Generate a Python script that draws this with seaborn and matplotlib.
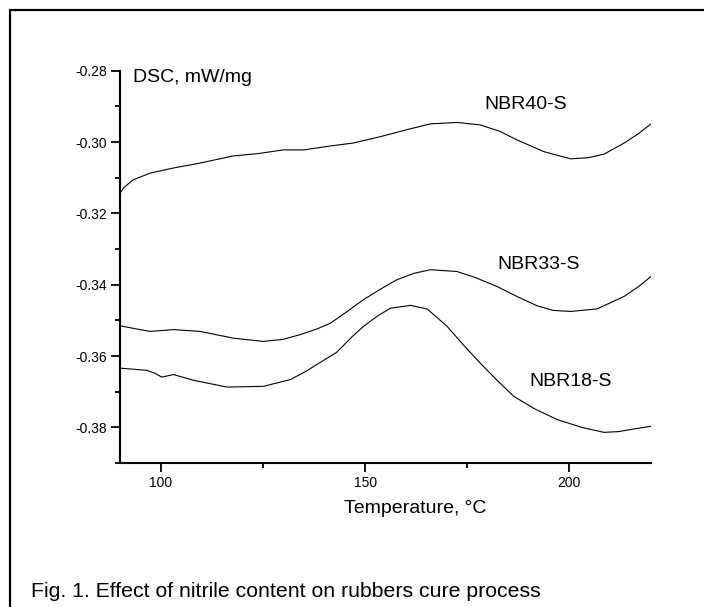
import matplotlib
matplotlib.use("Agg")
import matplotlib.pyplot as plt
from matplotlib.ticker import MultipleLocator, FormatStrFormatter
import pandas as pd
import seaborn as sns

# ---- data ----
t_40 = [90, 91, 93.2, 97.4, 103, 109.6, 117.7, 124, 130, 135, 141.5, 147, 153.7, 160,
        166, 172.5, 178.2, 183, 187.2, 193.8, 200.3, 204.5, 208.5, 213.4, 217, 220]
dsc_40 = [-0.3143, -0.3127, -0.3106, -0.3087, -0.3073, -0.3059, -0.3039, -0.3032,
          -0.3022, -0.3022, -0.3011, -0.3003, -0.2985, -0.2966, -0.2949, -0.2945,
          -0.2952, -0.2970, -0.2994, -0.3027, -0.3047, -0.3044, -0.3034, -0.3003,
          -0.2976, -0.2949]

t_33 = [90, 93.5, 97.4, 103.1, 109.6, 117.8, 125.1, 130, 134.1, 138, 141.5, 145.5,
        149.6, 153.7, 157.8, 162, 166, 172.5, 177, 182.3, 187, 192.1, 196, 200.3,
        206.8, 213.4, 217, 220]
dsc_33 = [-0.3515, -0.3523, -0.3531, -0.3526, -0.3531, -0.3550, -0.3559, -0.3553,
          -0.3540, -0.3525, -0.3508, -0.3476, -0.3442, -0.3413, -0.3386, -0.3368,
          -0.3358, -0.3363, -0.3380, -0.3405, -0.3432, -0.3459, -0.3472, -0.3475,
          -0.3468, -0.3433, -0.3405, -0.3377]

t_18 = [90, 96.5, 98.5, 100.2, 103.1, 108, 116.2, 125.1, 131.7, 135.5, 139, 143,
        146.9, 149.6, 153, 156.2, 161.1, 165.2, 170.1, 174, 178.2, 182.3, 186.4,
        191.5, 197, 203, 208.5, 212, 215, 220]
dsc_18 = [-0.3634, -0.3640, -0.3648, -0.3659, -0.3652, -0.3668, -0.3687, -0.3685,
          -0.3666, -0.3643, -0.3618, -0.3590, -0.3545, -0.3517, -0.3488, -0.3466,
          -0.3458, -0.3468, -0.3517, -0.3568, -0.3620, -0.3668, -0.3713, -0.3748,
          -0.3778, -0.3800, -0.3814, -0.3812, -0.3806, -0.3797]

samples = ["NBR40-S", "NBR33-S", "NBR18-S"]
label_x = [189.3, 192.5, 200.3]
label_y = [-0.2896, -0.3344, -0.3672]

df = pd.concat([
    pd.DataFrame({"T": t_40, "DSC": dsc_40, "sample": samples[0]}),
    pd.DataFrame({"T": t_33, "DSC": dsc_33, "sample": samples[1]}),
    pd.DataFrame({"T": t_18, "DSC": dsc_18, "sample": samples[2]}),
])

sns.set_style("ticks")
plt.rcParams["font.family"] = ["Liberation Sans", "DejaVu Sans"]
plt.rcParams["axes.unicode_minus"] = False
for key in ["text.color", "axes.labelcolor", "axes.edgecolor", "xtick.color", "ytick.color"]:
    plt.rcParams[key] = "black"

fig = plt.figure(figsize=(7.04, 6.07), dpi=100)
ax = fig.add_axes([0.1705, 0.2372, 0.7542, 0.6463])

sns.lineplot(data=df, x="T", y="DSC", hue="sample", units="sample", estimator=None,
             palette=["black"] * 3, linewidth=0.8, legend=False, ax=ax)

ax.set_xlim(90, 220)
ax.set_ylim(-0.39, -0.28)
ax.xaxis.set_major_locator(MultipleLocator(50))
ax.xaxis.set_minor_locator(MultipleLocator(25))
ax.yaxis.set_major_locator(MultipleLocator(0.02))
ax.yaxis.set_minor_locator(MultipleLocator(0.01))
ax.yaxis.set_major_formatter(FormatStrFormatter("%.2f"))
ax.tick_params(which="major", length=6.5, width=1.3, labelsize=10, pad=3)
ax.tick_params(which="minor", length=3.5, width=1.3)
sns.despine(ax=ax)
for s in ["left", "bottom"]:
    ax.spines[s].set_linewidth(1.5)

ax.set_ylabel("")
ax.set_xlabel("Temperature, \u00b0C", fontsize=14)
ax.xaxis.label.set_va("center")
ax.xaxis.set_label_coords(0.556, -0.115)

ax.text(93.2, -0.28325, "DSC, mW/mg", fontsize=14, va="baseline", ha="left")
for name, lx, ly in zip(samples, label_x, label_y):
    ax.text(lx, ly, name, fontsize=14, ha="center", va="center")

# figure caption and the page frame
fig.text(31 / 704, 1 - 597 / 607, "Fig. 1. Effect of nitrile content on rubbers cure process",
         fontsize=15.3, va="baseline", ha="left")
fig.add_artist(plt.Line2D([0.0142, 0.0142], [0, 0.9835], color="black", lw=1.6,
                          transform=fig.transFigure))
fig.add_artist(plt.Line2D([0.0142, 1], [0.9835, 0.9835], color="black", lw=1.6,
                          transform=fig.transFigure))

fig.savefig("out.png", dpi=100)
